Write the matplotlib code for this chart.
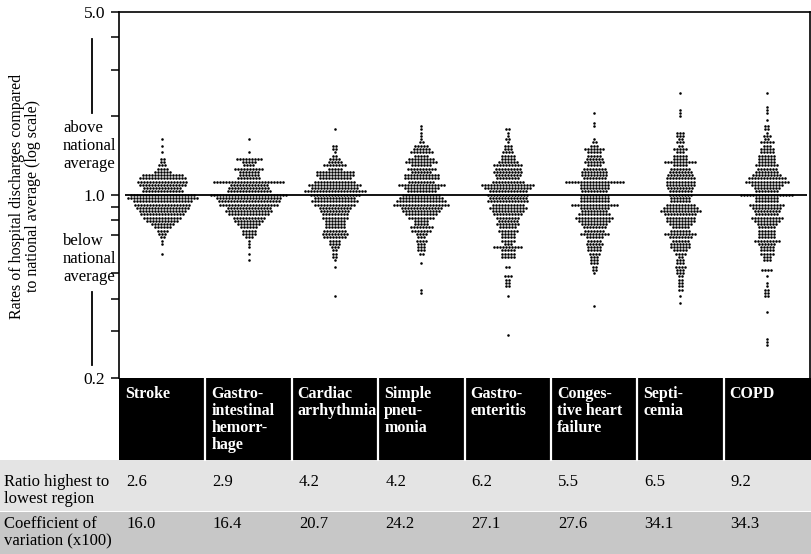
import numpy as np
import matplotlib.pyplot as plt
from matplotlib.patches import Rectangle
from matplotlib.lines import Line2D

plt.rcParams['font.family'] = ['Liberation Serif', 'DejaVu Serif']

categories = ['Stroke', 'Gastro-\nintestinal\nhemorr-\nhage', 'Cardiac\narrhythmia',
              'Simple\npneu-\nmonia', 'Gastro-\nenteritis', 'Conges-\ntive heart\nfailure',
              'Septi-\ncemia', 'COPD']
ratio_high_low = [2.6, 2.9, 4.2, 4.2, 6.2, 5.5, 6.5, 9.2]
coef_variation = [16.0, 16.4, 20.7, 24.2, 27.1, 27.6, 34.1, 34.3]

# regions per row of each swarm, top row first.
# row k sits at a rate of 10**(k*ROW_STEP); *_top is k of the first row
ROW_STEP = 0.0125

stroke_top = 17
stroke = [1, 0, 1, 0, 1, 0, 2, 2, 3, 4, 6, 14, 16, 17, 16, 13, 14, 22,
          24, 20, 19, 18, 16, 15, 13, 11, 8, 6, 4, 3, 2, 1, 1, 0, 0, 1]

gi_top = 17
gi = [1, 0, 0, 0, 1, 0, 9, 5, 4, 10, 7, 7, 8, 24, 13, 14, 15, 26,
      22, 21, 20, 15, 16, 14, 11, 10, 8, 6, 5, 5, 3, 1, 1, 1, 0, 1, 0, 1]

cardiac_top = 20
cardiac = [1, 0, 0, 0, 0, 2, 2, 1, 2, 4, 5, 8, 5, 13, 13, 11, 14, 18, 16, 21, 17,
           14, 16, 14, 11, 10, 9, 9, 7, 7, 7, 8, 9, 8, 4, 4, 3, 2, 2, 2, 1, 0, 1,
           0, 0, 0, 0, 0, 0, 0, 0, 1]

pneumonia_top = 21
pneumonia = [1, 1, 1, 1, 1, 2, 5, 6, 8, 5, 9, 11, 7, 10, 7, 12, 12, 9, 16, 12, 10, 13,
             15, 17, 19, 14, 13, 11, 9, 5, 5, 8, 7, 4, 3, 4, 3, 3, 3, 2, 0, 0,
             1, 0, 0, 0, 0, 0, 0, 0, 1, 1]

gastro_top = 20
gastro = [2, 1, 1, 2, 1, 3, 3, 4, 5, 5, 7, 10, 9, 10, 9, 8, 11, 18, 16, 13, 14,
          13, 14, 11, 13, 11, 10, 8, 7, 8, 6, 7, 5, 5, 5, 3, 10, 5, 5, 5, 0,
          0, 2, 0, 0, 3, 2, 2, 2, 0, 0, 1,
          0, 0, 0, 0, 0, 0, 0, 0, 0, 0, 0, 1]

chf_top = 25
chf = [1, 0, 0, 1, 1, 0, 0, 0, 1, 2, 3, 7, 5, 5, 6, 7, 5, 8, 9, 9, 8, 20, 10, 10, 9, 10,
       10, 10, 16, 10, 9, 11, 13, 11, 9, 8, 7, 10, 6, 5, 6, 5, 5, 4, 3, 3, 3, 2, 2, 1,
       0, 0, 0, 0, 0, 0, 0, 0, 0, 1]

septicemia_top = 31
septicemia = [1, 0, 0, 0, 0, 1, 1, 1, 0, 0, 0, 0, 3, 3, 2, 3, 2, 5, 3, 5,
              5, 11, 5, 7, 8, 9, 10, 10, 10, 9, 8, 8,
              7, 7, 10, 12, 14, 11, 10, 10, 8, 6, 7, 11, 8, 6, 7, 7, 5, 4, 2, 3,
              3, 4, 3, 3, 2, 2, 2, 2, 2, 0, 1, 0, 1]

copd_top = 31
copd = [1, 0, 0, 0, 1, 1, 1, 0, 1, 0, 2, 2, 1, 3, 2, 5, 3, 5, 5, 6,
        6, 6, 8, 7, 8, 10, 13, 15, 11, 9, 8, 18,
        8, 8, 12, 10, 9, 8, 11, 9, 7, 6, 6, 6, 6, 9, 6, 5, 5, 5, 3, 3,
        0, 0, 4, 0, 1, 0, 1, 1, 2, 2, 2, 0, 0, 0, 0, 1,
        0, 0, 0, 0, 0, 0, 0, 1, 1, 1]

swarms = [(stroke_top, stroke), (gi_top, gi), (cardiac_top, cardiac),
          (pneumonia_top, pneumonia), (gastro_top, gastro), (chf_top, chf),
          (septicemia_top, septicemia), (copd_top, copd)]

W, H = 811, 554
fig = plt.figure(figsize=(W / 100, H / 100), dpi=100)

# plot area, in pixels from the top-left corner
left, right, top, bottom = 119, 810, 12, 377.5
ax = fig.add_axes([left / W, 1 - bottom / H, (right - left) / W, (bottom - top) / H])
ax.set_yscale('log')
ax.set_ylim(0.2, 5.0)
ax.set_xlim(0, 8)

col_px = (right - left) / 8.0
dx = 3.0 / col_px   # horizontal dot pitch, ~3 px

for i, (k_top, counts) in enumerate(swarms):
    xs, ys = [], []
    for j, n in enumerate(counts):
        if n == 0:
            continue
        k = k_top - j
        off = (np.arange(n) - (n - 1) / 2.0) * dx
        xs.extend(i + 0.5 + off)
        ys.extend([10 ** (k * ROW_STEP)] * n)
    ax.scatter(xs, ys, s=3.4, c='black', linewidths=0, zorder=3)

ax.hlines(1.0, 0.07, 7.96, color='black', lw=1.3, zorder=2)

ax.set_xticks([])
ax.yaxis.set_minor_locator(plt.NullLocator())
yt = [0.2, 0.3, 0.4, 0.5, 0.7, 0.8, 0.9, 1.0, 2.0, 3.0, 4.0, 5.0]
ax.set_yticks(yt)
ax.set_yticklabels(['%.1f' % v if v in (0.2, 1.0, 5.0) else '' for v in yt])
ax.tick_params(axis='y', direction='out', length=6, width=1.1, labelsize=12.5, pad=4)
ax.spines['bottom'].set_visible(False)
for s in ['left', 'top', 'right']:
    ax.spines[s].set_linewidth(1.2)

fig.text(25 / W, 1 - 196 / H,
         'Rates of hospital discharges compared\nto national average (log scale)',
         rotation=90, ha='center', va='center', fontsize=11.5, linespacing=1.05)

fig.text(63 / W, 1 - 146 / H, 'above\nnational\naverage', ha='left', va='center',
         fontsize=12, linespacing=1.15)
fig.text(63 / W, 1 - 259 / H, 'below\nnational\naverage', ha='left', va='center',
         fontsize=12, linespacing=1.15)
fig.add_artist(Line2D([92 / W, 92 / W], [1 - 39 / H, 1 - 113 / H], color='black', lw=1.3))
fig.add_artist(Line2D([92 / W, 92 / W], [1 - 292 / H, 1 - 365 / H], color='black', lw=1.3))

# table under the plot, drawn in pixel units
tab = fig.add_axes([0, 0, 1, (H - bottom) / H])
tab.set_xlim(0, W)
tab.set_ylim(H - bottom, 0)
tab.axis('off')

head_h = 82.5
tab.add_patch(Rectangle((left, 0), W - left, head_h, fc='black', ec='none'))
tab.add_patch(Rectangle((0, head_h), W, 50.5, fc='#e4e4e4', ec='none'))
tab.add_patch(Rectangle((0, head_h + 52), W, H - bottom - head_h - 52, fc='#c7c7c7', ec='none'))

for i in range(1, 8):
    x = left + col_px * i
    tab.plot([x, x], [0, head_h], color='white', lw=1.6)

for i, name in enumerate(categories):
    x0 = left + col_px * i + 6
    tab.text(x0, 8, name, color='white', fontweight='bold', fontsize=11.5,
             ha='left', va='top', linespacing=1.1)
    tab.text(x0 + 1, 104, '%.1f' % ratio_high_low[i], fontsize=12, ha='left', va='center')
    tab.text(x0 + 1, 146, '%.1f' % coef_variation[i], fontsize=12, ha='left', va='center')

tab.text(4, 113, 'Ratio highest to\nlowest region', fontsize=12, ha='left', va='center',
         linespacing=1.1)
tab.text(4, 155, 'Coefficient of\nvariation (x100)', fontsize=12, ha='left', va='center',
         linespacing=1.1)

fig.savefig('out.png', dpi=100)
